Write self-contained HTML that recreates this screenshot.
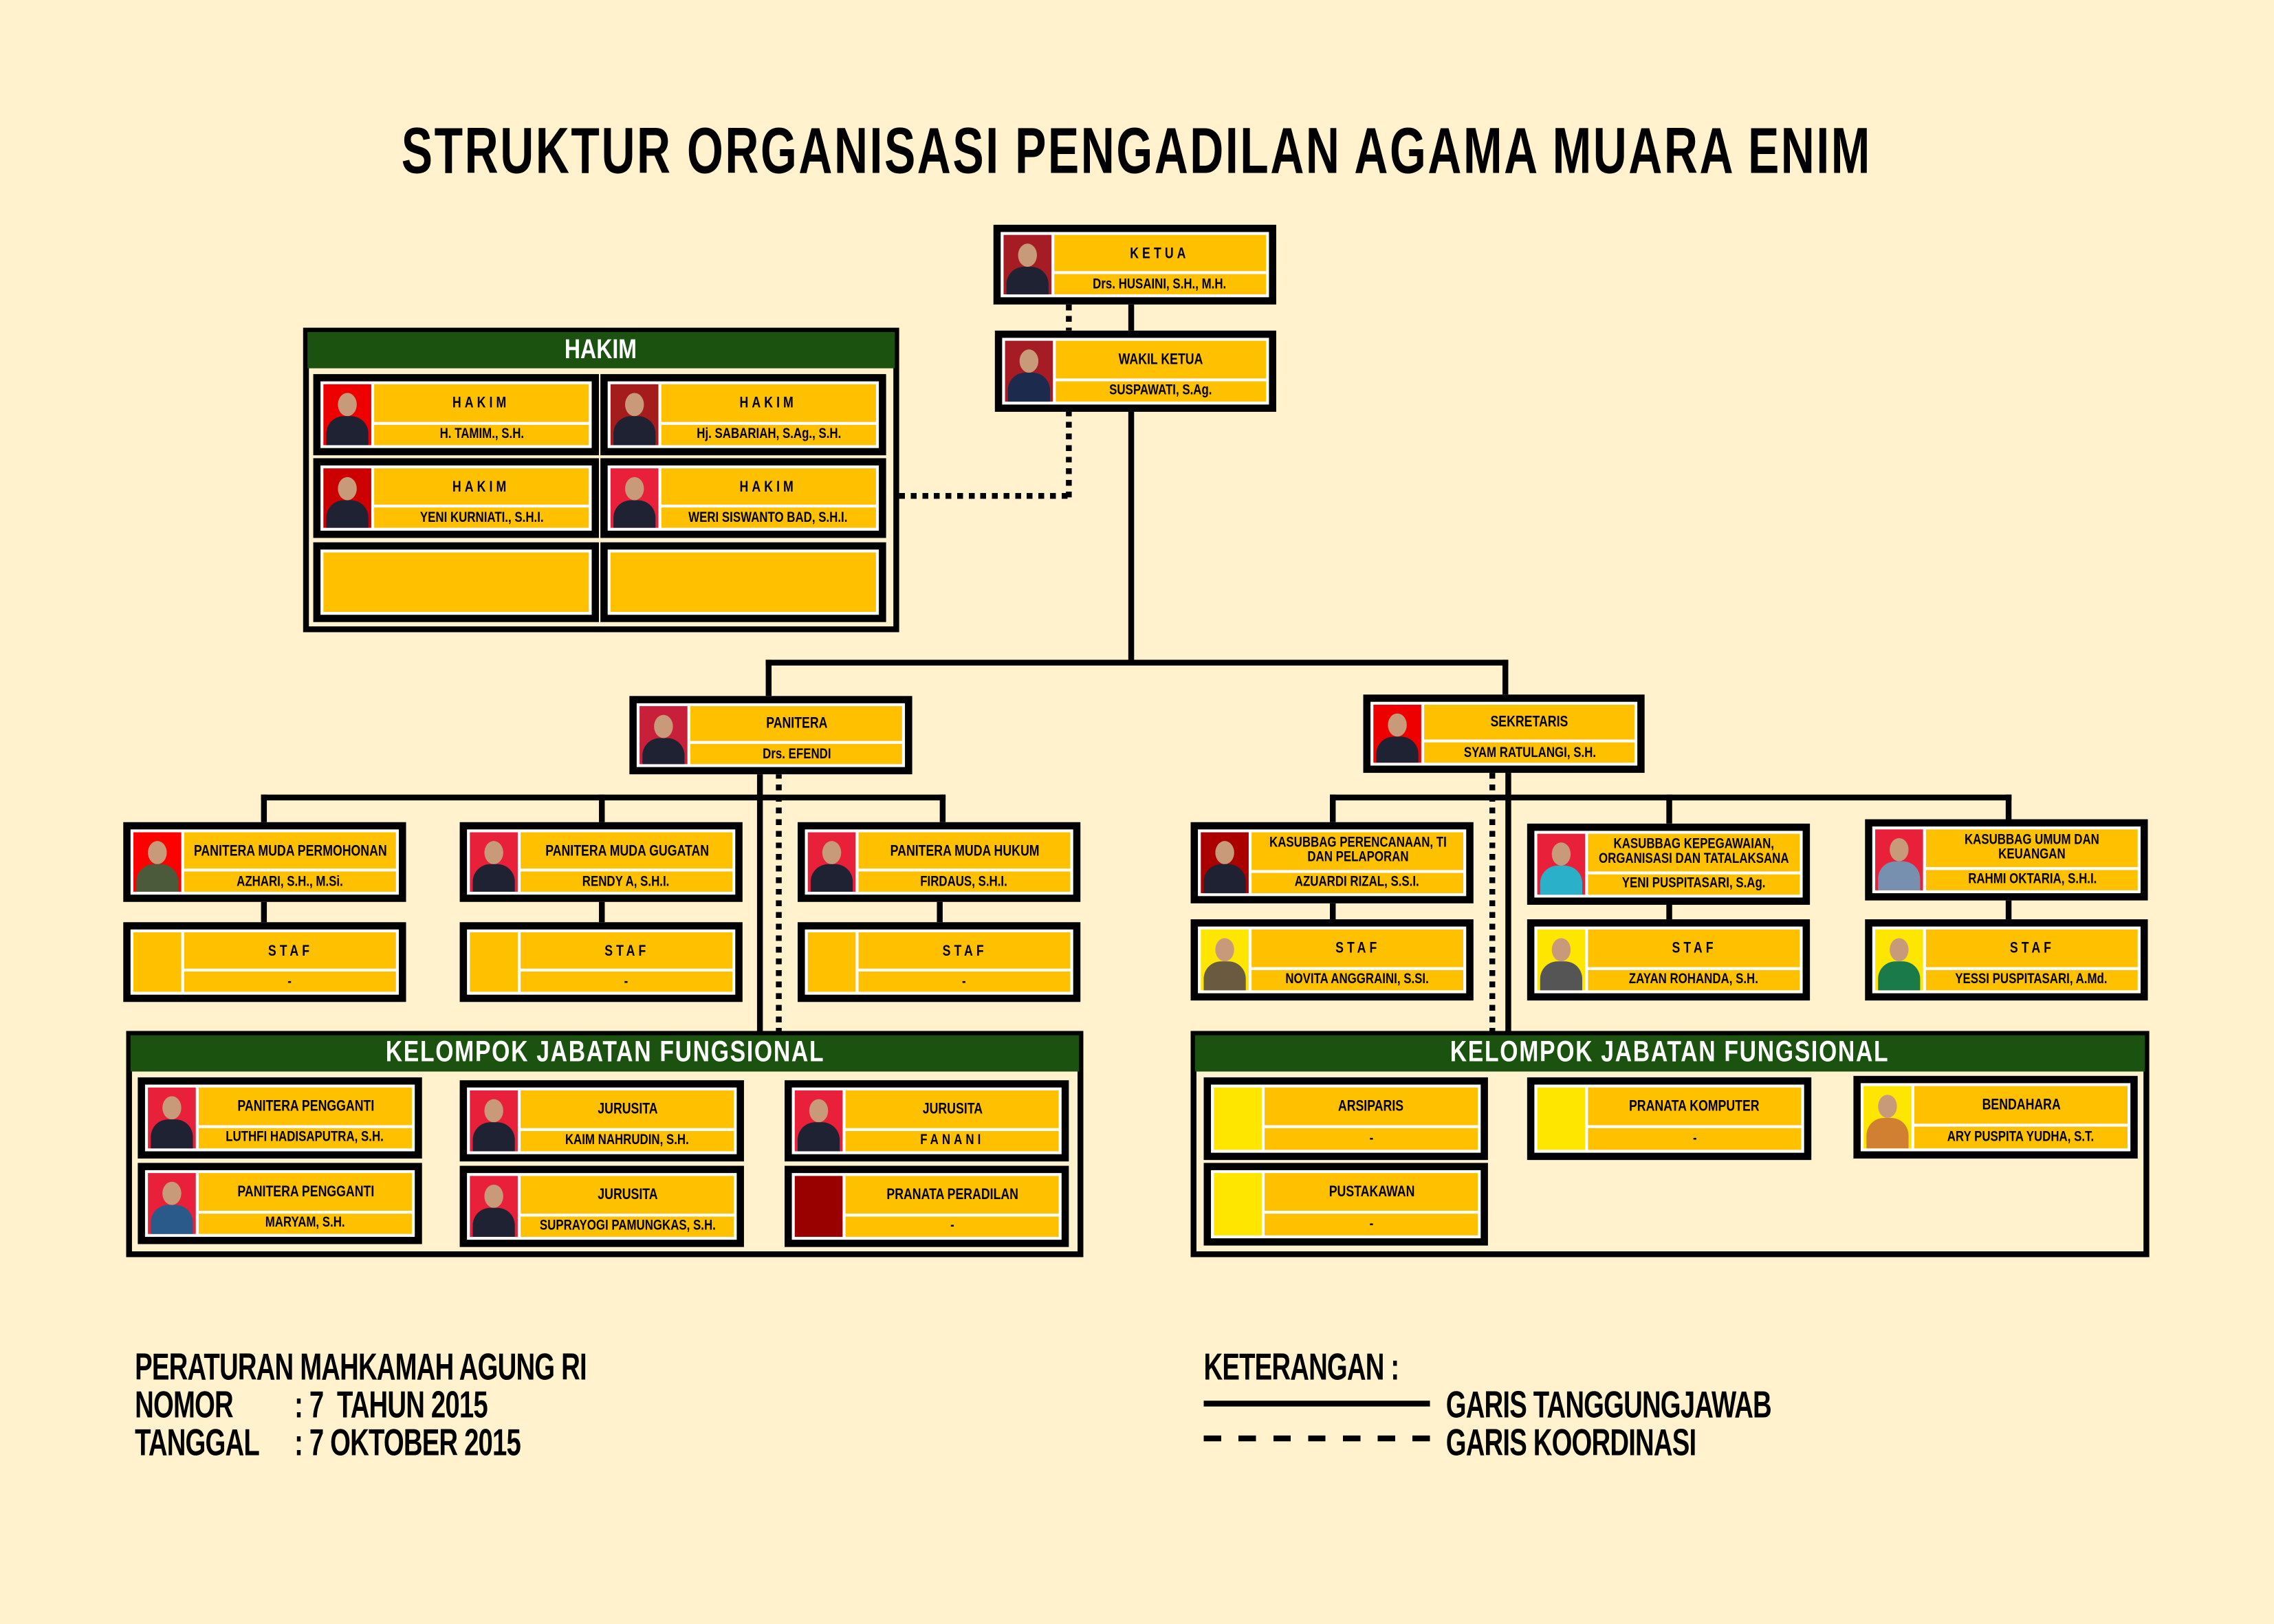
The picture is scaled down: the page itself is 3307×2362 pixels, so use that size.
<!DOCTYPE html>
<html><head><meta charset="utf-8">
<style>
html,body{margin:0;padding:0;background:#fff2cc;}
body{width:3307px;height:2362px;overflow:hidden;position:relative;}
#w{position:absolute;left:0;top:0;width:1568px;height:1120px;transform:scale(2.10906,2.10893);transform-origin:0 0;font-family:"Liberation Sans",sans-serif;font-weight:bold;color:#000;}
.a{position:absolute;}
.h{position:absolute;background:#000;height:4px;}
.v{position:absolute;background:#000;width:4px;}
.dv{position:absolute;width:4px;background:repeating-linear-gradient(to bottom,#000 0 4px,transparent 4px 8px);}
.dh{position:absolute;height:4px;background:repeating-linear-gradient(to right,#000 0 4px,transparent 4px 8px);}
.c{position:absolute;box-sizing:border-box;border:5px solid #000;background:#fff;padding:2px;display:flex;gap:2px;}
.p{width:33px;flex:none;position:relative;overflow:hidden;}
.p i{position:absolute;left:10px;top:6px;width:13px;height:16px;border-radius:50%;background:#c99a7a;}
.p b{position:absolute;left:2px;top:22px;width:29px;height:30px;border-radius:12px 12px 0 0;background:#1e2233;}
.r{flex:1;display:flex;flex-direction:column;gap:2px;min-width:0;}
.t,.n{background:#ffc000;display:flex;align-items:center;justify-content:center;text-align:center;white-space:nowrap;overflow:hidden;}
.t span,.n span{display:inline-block;transform:scaleX(.8);}
.t{flex:27;font-size:10.5px;line-height:10px;}
.n{flex:15;font-size:10px;}
.sp{letter-spacing:3px;}
.g{position:absolute;box-sizing:border-box;border:4px solid #000;}
.gh{position:absolute;background:#1b5210;color:#fff;text-align:center;}
.gh span{display:inline-block;transform:scaleX(.8);}
.y{position:absolute;box-sizing:border-box;border:5px solid #000;background:#fff;padding:2px;}
.y div{width:100%;height:100%;background:#ffc000;}
.bt{position:absolute;font-size:23px;transform:scale(.79,1.12);transform-origin:0 0;white-space:pre;letter-spacing:-0.5px;}
</style></head><body><div id="w">

<div class="a" style="left:0;width:1568px;top:80px;text-align:center;"><span style="display:inline-block;font-size:40px;letter-spacing:1.5px;transform:scale(.805,1.12);transform-origin:50% 0;white-space:nowrap">STRUKTUR ORGANISASI PENGADILAN AGAMA MUARA ENIM</span></div>

<!-- lines -->
<div class="v" style="left:778px;top:205px;height:254px"></div>
<div class="dv" style="left:735px;top:210px;height:18px"></div>
<div class="dv" style="left:735px;top:283px;height:60px"></div>
<div class="dh" style="left:620px;top:340px;width:119px"></div>
<div class="h" style="left:528px;top:455px;width:512px"></div>
<div class="v" style="left:528px;top:455px;height:26px"></div>
<div class="v" style="left:1036px;top:455px;height:26px"></div>

<div class="v" style="left:522px;top:530px;height:182px"></div>
<div class="dv" style="left:535px;top:533px;height:178px"></div>
<div class="h" style="left:180px;top:548px;width:472px"></div>
<div class="v" style="left:180px;top:548px;height:20px"></div>
<div class="v" style="left:413px;top:548px;height:20px"></div>
<div class="v" style="left:648px;top:548px;height:20px"></div>
<div class="v" style="left:180px;top:620px;height:17px"></div>
<div class="v" style="left:413px;top:620px;height:17px"></div>
<div class="v" style="left:646px;top:620px;height:17px"></div>

<div class="v" style="left:1038px;top:530px;height:182px"></div>
<div class="dv" style="left:1027px;top:533px;height:178px"></div>
<div class="h" style="left:917px;top:548px;width:470px"></div>
<div class="v" style="left:917px;top:548px;height:20px"></div>
<div class="v" style="left:1149px;top:548px;height:20px"></div>
<div class="v" style="left:1383px;top:548px;height:20px"></div>
<div class="v" style="left:917px;top:620px;height:16px"></div>
<div class="v" style="left:1149px;top:620px;height:16px"></div>
<div class="v" style="left:1383px;top:620px;height:16px"></div>

<!-- ketua -->
<div class="c" style="left:685px;top:155px;width:195px;height:55px"><div class="p" style="background:#a51c24"><i></i><b></b></div><div class="r"><div class="t sp"><span>KETUA</span></div><div class="n"><span>Drs. HUSAINI, S.H., M.H.</span></div></div></div>
<div class="c" style="left:686px;top:228px;width:194px;height:56px"><div class="p" style="background:#a51c24"><i></i><b style="background:#1c2a4e"></b></div><div class="r"><div class="t"><span>WAKIL KETUA</span></div><div class="n"><span>SUSPAWATI, S.Ag.</span></div></div></div>

<!-- hakim -->
<div class="g" style="left:209px;top:226px;width:411px;height:210px"></div>
<div class="gh" style="left:212px;top:229px;width:405px;height:25px;font-size:19px;line-height:25px"><span>HAKIM</span></div>
<div class="c" style="left:216px;top:258px;width:197px;height:56px"><div class="p" style="background:#e00"><i></i><b></b></div><div class="r"><div class="t sp"><span>HAKIM</span></div><div class="n"><span>H. TAMIM., S.H.</span></div></div></div>
<div class="c" style="left:414px;top:258px;width:197px;height:56px"><div class="p" style="background:#a51c1c"><i></i><b></b></div><div class="r"><div class="t sp"><span>HAKIM</span></div><div class="n"><span>Hj. SABARIAH, S.Ag., S.H.</span></div></div></div>
<div class="c" style="left:216px;top:316px;width:197px;height:55px"><div class="p" style="background:#c00"><i></i><b></b></div><div class="r"><div class="t sp"><span>HAKIM</span></div><div class="n"><span>YENI KURNIATI., S.H.I.</span></div></div></div>
<div class="c" style="left:414px;top:316px;width:197px;height:55px"><div class="p" style="background:#e8203a"><i></i><b></b></div><div class="r"><div class="t sp"><span>HAKIM</span></div><div class="n"><span>WERI SISWANTO BAD, S.H.I.</span></div></div></div>
<div class="y" style="left:216px;top:374px;width:197px;height:55px"><div></div></div>
<div class="y" style="left:414px;top:374px;width:197px;height:55px"><div></div></div>

<!-- panitera / sekretaris -->
<div class="c" style="left:434px;top:480px;width:195px;height:54px"><div class="p" style="background:#c8203a"><i></i><b></b></div><div class="r"><div class="t"><span>PANITERA</span></div><div class="n"><span>Drs. EFENDI</span></div></div></div>
<div class="c" style="left:940px;top:479px;width:194px;height:54px"><div class="p" style="background:#e00"><i></i><b></b></div><div class="r"><div class="t"><span>SEKRETARIS</span></div><div class="n"><span>SYAM RATULANGI, S.H.</span></div></div></div>

<!-- panitera muda -->
<div class="c" style="left:85px;top:567px;width:195px;height:55px"><div class="p" style="background:#f00"><i></i><b style="background:#4a5a3a"></b></div><div class="r"><div class="t"><span>PANITERA MUDA PERMOHONAN</span></div><div class="n"><span>AZHARI, S.H., M.Si.</span></div></div></div>
<div class="c" style="left:317px;top:567px;width:195px;height:55px"><div class="p" style="background:#e8203a"><i></i><b></b></div><div class="r"><div class="t"><span>PANITERA MUDA GUGATAN</span></div><div class="n"><span>RENDY A, S.H.I.</span></div></div></div>
<div class="c" style="left:550px;top:567px;width:195px;height:55px"><div class="p" style="background:#e8203a"><i></i><b></b></div><div class="r"><div class="t"><span>PANITERA MUDA HUKUM</span></div><div class="n"><span>FIRDAUS, S.H.I.</span></div></div></div>
<div class="c" style="left:85px;top:636px;width:195px;height:55px"><div class="p" style="background:#ffc000"></div><div class="r"><div class="t sp"><span>STAF</span></div><div class="n"><span>-</span></div></div></div>
<div class="c" style="left:317px;top:636px;width:195px;height:55px"><div class="p" style="background:#ffc000"></div><div class="r"><div class="t sp"><span>STAF</span></div><div class="n"><span>-</span></div></div></div>
<div class="c" style="left:550px;top:636px;width:195px;height:55px"><div class="p" style="background:#ffc000"></div><div class="r"><div class="t sp"><span>STAF</span></div><div class="n"><span>-</span></div></div></div>

<!-- KJF left -->
<div class="g" style="left:87px;top:711px;width:660px;height:156px"></div>
<div class="gh" style="left:90px;top:714px;width:654px;height:25px;font-size:20px;line-height:25px;letter-spacing:1px"><span>KELOMPOK JABATAN FUNGSIONAL</span></div>
<div class="c" style="left:95px;top:743px;width:196px;height:56px"><div class="p" style="background:#e8203a"><i></i><b></b></div><div class="r"><div class="t"><span>PANITERA PENGGANTI</span></div><div class="n"><span>LUTHFI HADISAPUTRA, S.H.</span></div></div></div>
<div class="c" style="left:95px;top:802px;width:196px;height:56px"><div class="p" style="background:#e8203a"><i></i><b style="background:#2a5a8a"></b></div><div class="r"><div class="t"><span>PANITERA PENGGANTI</span></div><div class="n"><span>MARYAM, S.H.</span></div></div></div>
<div class="c" style="left:317px;top:745px;width:196px;height:56px"><div class="p" style="background:#e8203a"><i></i><b></b></div><div class="r"><div class="t"><span>JURUSITA</span></div><div class="n"><span>KAIM NAHRUDIN, S.H.</span></div></div></div>
<div class="c" style="left:317px;top:804px;width:196px;height:56px"><div class="p" style="background:#e8203a"><i></i><b></b></div><div class="r"><div class="t"><span>JURUSITA</span></div><div class="n"><span>SUPRAYOGI PAMUNGKAS, S.H.</span></div></div></div>
<div class="c" style="left:541px;top:745px;width:196px;height:56px"><div class="p" style="background:#e8203a"><i></i><b></b></div><div class="r"><div class="t"><span>JURUSITA</span></div><div class="n sp"><span>FANANI</span></div></div></div>
<div class="c" style="left:541px;top:804px;width:196px;height:56px"><div class="p" style="background:#900"></div><div class="r"><div class="t"><span>PRANATA PERADILAN</span></div><div class="n"><span>-</span></div></div></div>

<!-- kasubbag -->
<div class="c" style="left:821px;top:567px;width:195px;height:56px"><div class="p" style="background:#a00"><i></i><b></b></div><div class="r"><div class="t" style="font-size:10px;line-height:10px"><span>KASUBBAG PERENCANAAN, TI<br>DAN PELAPORAN</span></div><div class="n"><span>AZUARDI RIZAL, S.S.I.</span></div></div></div>
<div class="c" style="left:1053px;top:568px;width:195px;height:56px"><div class="p" style="background:#e8203a"><i></i><b style="background:#2ab0c8"></b></div><div class="r"><div class="t" style="font-size:10px;line-height:10px"><span>KASUBBAG KEPEGAWAIAN,<br>ORGANISASI DAN TATALAKSANA</span></div><div class="n"><span>YENI PUSPITASARI, S.Ag.</span></div></div></div>
<div class="c" style="left:1286px;top:565px;width:195px;height:56px"><div class="p" style="background:#e8203a"><i></i><b style="background:#7890b0"></b></div><div class="r"><div class="t" style="font-size:10px;line-height:10px"><span>KASUBBAG UMUM DAN<br>KEUANGAN</span></div><div class="n"><span>RAHMI OKTARIA, S.H.I.</span></div></div></div>
<div class="c" style="left:821px;top:634px;width:195px;height:56px"><div class="p" style="background:#ffe600"><i></i><b style="background:#6a5a40"></b></div><div class="r"><div class="t sp"><span>STAF</span></div><div class="n"><span>NOVITA ANGGRAINI, S.SI.</span></div></div></div>
<div class="c" style="left:1053px;top:634px;width:195px;height:56px"><div class="p" style="background:#ffe600"><i></i><b style="background:#555"></b></div><div class="r"><div class="t sp"><span>STAF</span></div><div class="n"><span>ZAYAN ROHANDA, S.H.</span></div></div></div>
<div class="c" style="left:1286px;top:634px;width:195px;height:56px"><div class="p" style="background:#ffe600"><i></i><b style="background:#1a7a4a"></b></div><div class="r"><div class="t sp"><span>STAF</span></div><div class="n"><span>YESSI PUSPITASARI, A.Md.</span></div></div></div>

<!-- KJF right -->
<div class="g" style="left:821px;top:711px;width:661px;height:156px"></div>
<div class="gh" style="left:824px;top:714px;width:655px;height:25px;font-size:20px;line-height:25px;letter-spacing:1px"><span>KELOMPOK JABATAN FUNGSIONAL</span></div>
<div class="c" style="left:830px;top:743px;width:196px;height:57px"><div class="p" style="background:#ffe600"></div><div class="r"><div class="t"><span>ARSIPARIS</span></div><div class="n"><span>-</span></div></div></div>
<div class="c" style="left:1053px;top:743px;width:196px;height:57px"><div class="p" style="background:#ffe600"></div><div class="r"><div class="t"><span>PRANATA KOMPUTER</span></div><div class="n"><span>-</span></div></div></div>
<div class="c" style="left:1278px;top:742px;width:196px;height:57px"><div class="p" style="background:#ffe600"><i></i><b style="background:#d08030"></b></div><div class="r"><div class="t"><span>BENDAHARA</span></div><div class="n"><span>ARY PUSPITA YUDHA, S.T.</span></div></div></div>
<div class="c" style="left:830px;top:802px;width:196px;height:57px"><div class="p" style="background:#ffe600"></div><div class="r"><div class="t"><span>PUSTAKAWAN</span></div><div class="n"><span>-</span></div></div></div>

<!-- bottom -->
<div class="bt" style="left:93px;top:928px">PERATURAN MAHKAMAH AGUNG RI</div>
<div class="bt" style="left:93px;top:954px">NOMOR</div>
<div class="bt" style="left:203px;top:954px">: 7  TAHUN 2015</div>
<div class="bt" style="left:93px;top:980px">TANGGAL</div>
<div class="bt" style="left:203px;top:980px">: 7 OKTOBER 2015</div>
<div class="bt" style="left:830px;top:928px">KETERANGAN :</div>
<div class="h" style="left:830px;top:966px;width:156px"></div>
<div class="bt" style="left:997px;top:954px">GARIS TANGGUNGJAWAB</div>
<div class="a" style="left:830px;top:990px;width:160px;height:4px;background:repeating-linear-gradient(to right,#000 0 12px,transparent 12px 24px)"></div>
<div class="bt" style="left:997px;top:980px">GARIS KOORDINASI</div>

</div></body></html>
